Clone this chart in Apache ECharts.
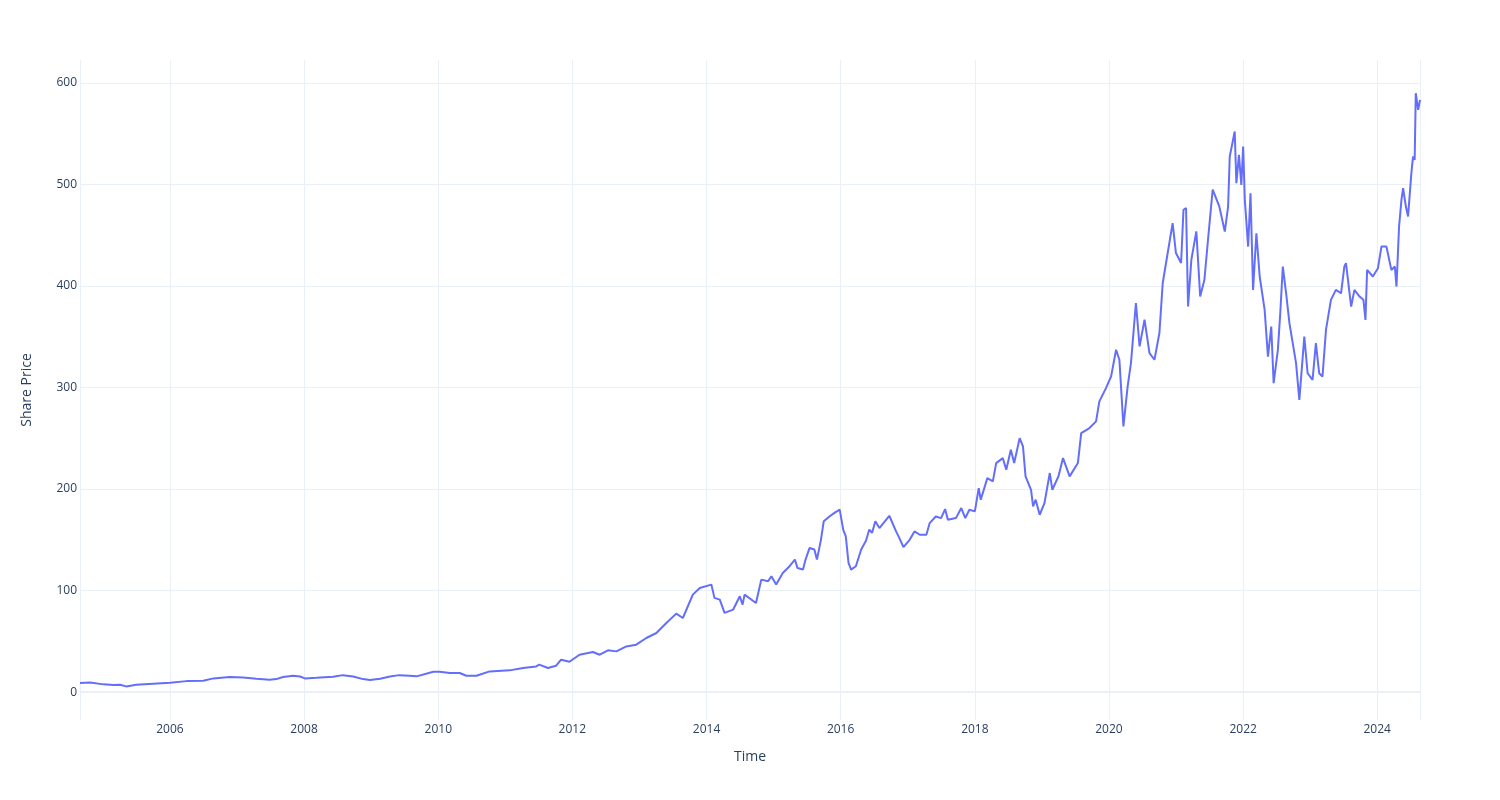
<!DOCTYPE html>
<html>
<head>
<meta charset="utf-8">
<script src="https://cdn.jsdelivr.net/npm/echarts@6/dist/echarts.min.js"></script>
<style>
  html, body { margin: 0; padding: 0; background: #fff; }
  #chart { width: 1500px; height: 800px; }
</style>
</head>
<body>
<div id="chart"></div>
<script>
// dates and prices
const dates = [
  '2004-08-29','2004-10-23','2005-01-04','2005-02-28','2005-04-04','2005-05-08','2005-07-01','2005-10-01',
  '2006-01-01','2006-04-01','2006-07-01','2006-08-25','2006-11-22','2007-02-03','2007-04-17','2007-06-28',
  '2007-08-03','2007-09-09','2007-11-03','2007-12-10','2008-01-05','2008-03-08','2008-06-07','2008-07-31',
  '2008-09-24','2008-11-18','2008-12-25','2009-02-18','2009-04-13','2009-06-03','2009-07-28','2009-09-05',
  '2009-12-05','2010-01-09','2010-03-05','2010-04-28','2010-06-03','2010-07-28','2010-10-08','2011-01-25',
  '2011-04-08','2011-06-18','2011-07-05','2011-08-21','2011-10-05','2011-11-01','2011-12-16','2012-02-09',
  '2012-04-22','2012-05-29','2012-07-13','2012-08-28','2012-10-21','2012-12-14','2013-02-07','2013-04-03',
  '2013-05-27','2013-07-20','2013-08-25','2013-10-18','2013-11-25','2014-01-27','2014-02-13','2014-03-14',
  '2014-04-09','2014-05-26','2014-07-01','2014-07-16','2014-07-27','2014-09-27','2014-10-26','2014-12-02',
  '2014-12-20','2015-01-15','2015-02-20','2015-03-29','2015-04-27','2015-05-11','2015-06-10','2015-06-24',
  '2015-07-16','2015-08-11','2015-08-25','2015-09-16','2015-10-01','2015-11-03','2015-11-28','2015-12-27',
  '2016-01-15','2016-01-29','2016-02-13','2016-02-27','2016-03-24','2016-04-22','2016-05-18','2016-06-05',
  '2016-06-20','2016-07-08','2016-07-30','2016-09-22','2016-10-29','2016-11-16','2016-12-08','2017-01-11',
  '2017-02-06','2017-03-07','2017-04-12','2017-04-30','2017-06-02','2017-07-01','2017-07-23','2017-08-07',
  '2017-09-20','2017-10-19','2017-11-10','2017-12-02','2018-01-01','2018-01-22','2018-02-02','2018-03-10',
  '2018-04-09','2018-04-27','2018-06-02','2018-06-21','2018-07-16','2018-08-03','2018-09-02','2018-09-20',
  '2018-10-04','2018-11-03','2018-11-14','2018-11-28','2018-12-20','2019-01-15','2019-02-13','2019-02-27',
  '2019-04-01','2019-04-26','2019-06-01','2019-07-16','2019-08-03','2019-09-17','2019-10-23','2019-11-10',
  '2019-12-16','2020-01-13','2020-02-09','2020-02-27','2020-03-20','2020-04-12','2020-04-30','2020-05-27',
  '2020-06-16','2020-07-13','2020-08-09','2020-09-05','2020-10-02','2020-10-20','2020-11-07','2020-12-13',
  '2020-12-31','2021-01-28','2021-02-10','2021-02-24','2021-03-07','2021-03-25','2021-04-21','2021-05-12',
  '2021-06-04','2021-06-22','2021-07-19','2021-08-24','2021-09-23','2021-10-11','2021-10-20','2021-11-16',
  '2021-11-25','2021-12-09','2021-12-22','2022-01-01','2022-01-10','2022-01-28','2022-02-10','2022-02-24',
  '2022-03-14','2022-04-01','2022-04-28','2022-05-16','2022-06-03','2022-06-16','2022-07-09','2022-07-22',
  '2022-08-05','2022-08-23','2022-09-10','2022-09-28','2022-10-16','2022-11-03','2022-11-30','2022-12-18',
  '2023-01-14','2023-02-01','2023-02-19','2023-03-09','2023-03-28','2023-04-24','2023-05-21','2023-06-18',
  '2023-07-06','2023-07-15','2023-08-12','2023-08-30','2023-09-27','2023-10-18','2023-10-29','2023-11-07',
  '2023-12-08','2024-01-05','2024-01-24','2024-02-20','2024-03-18','2024-04-06','2024-04-15','2024-04-29',
  '2024-05-12','2024-05-21','2024-06-05','2024-06-17','2024-07-05','2024-07-14','2024-07-23','2024-07-29',
  '2024-08-11','2024-08-21'
];
const prices = [
  8.9, 9.5, 7.6, 6.9, 7.2, 5.6, 7.2, 8.2,
  9.2, 10.8, 11.2, 13.5, 14.8, 14.4, 13.1, 12.2,
  12.8, 14.8, 16.1, 15.4, 13.5, 14.1, 15.1, 16.7,
  15.4, 12.8, 11.8, 13.1, 15.4, 16.7, 16.1, 15.5,
  20.0, 20.0, 18.8, 18.8, 16.1, 16.1, 20.4, 21.4,
  23.7, 25.3, 27.0, 23.7, 26.0, 31.9, 29.9, 36.8,
  39.5, 36.8, 41.1, 40.1, 45.0, 46.7, 53.3, 58.2,
  68.0, 77.3, 73.0, 96.0, 102.6, 105.9, 92.8, 91.1,
  78.0, 81.3, 94.4, 86.2, 96.0, 87.8, 110.8, 109.2,
  114.1, 105.9, 117.4, 124.0, 130.5, 122.3, 120.7, 130.5,
  142.0, 140.4, 130.5, 150.2, 168.3, 173.2, 176.5, 179.8,
  160.1, 153.5, 127.3, 120.7, 124.0, 140.4, 149.0, 160.1,
  156.8, 168.3, 161.6, 173.7, 158.3, 151.7, 142.9, 150.0,
  158.3, 155.0, 155.0, 166.5, 173.0, 171.4, 180.3, 169.8,
  171.4, 181.3, 171.4, 179.6, 178.0, 201.0, 189.5, 210.8,
  207.6, 225.6, 230.5, 219.0, 238.8, 225.6, 250.2, 242.0,
  212.5, 199.3, 182.9, 189.5, 174.7, 186.2, 215.8, 199.3,
  212.5, 230.5, 212.5, 225.6, 255.2, 260.1, 266.7, 286.4,
  299.5, 311.0, 337.3, 327.4, 261.7, 301.1, 324.1, 383.3,
  340.6, 366.8, 334.0, 327.4, 353.7, 403.0, 422.7, 462.0,
  432.5, 422.7, 475.2, 476.8, 380.0, 426.0, 453.9, 389.8,
  406.2, 442.4, 495.0, 478.5, 453.7, 478.3, 527.6, 552.2,
  501.3, 529.2, 499.7, 537.4, 484.9, 438.9, 491.5, 396.2,
  452.0, 409.4, 376.5, 330.5, 360.1, 304.3, 337.1, 373.2,
  419.2, 392.9, 363.4, 343.7, 324.0, 287.8, 350.2, 314.1,
  307.6, 343.7, 314.1, 310.8, 356.8, 386.4, 396.2, 392.9,
  419.2, 422.5, 379.8, 396.2, 389.7, 386.4, 366.7, 415.9,
  409.4, 417.6, 438.9, 438.9, 415.9, 419.2, 399.5, 458.6,
  484.9, 496.4, 478.3, 468.5, 511.2, 527.6, 524.3, 590.0,
  573.6, 583.4
];
const priceTicks = [0, 100, 200, 300, 400, 500, 600];

const font = '"Open Sans", verdana, arial, sans-serif';

const chart = echarts.init(document.getElementById('chart'));
chart.setOption({
  animation: false,
  backgroundColor: '#fff',
  textStyle: { fontFamily: font },
  grid: { left: 80, right: 80, top: 60, bottom: 80 },
  xAxis: {
    type: 'time',
    min: dates[0],
    max: dates[dates.length - 1],
    splitNumber: 10,
    name: 'Time',
    nameLocation: 'middle',
    nameGap: 30,
    nameTextStyle: { color: '#2a3f5f', fontSize: 14, fontFamily: font },
    axisLine: { show: false },
    axisTick: { show: false },
    axisLabel: {
      color: '#2a3f5f',
      fontSize: 12,
      margin: 4,
      fontFamily: font,
      fontWeight: 'normal',
      hideOverlap: true,
      formatter: v => String(new Date(v).getFullYear())
    },
    splitLine: { show: true, lineStyle: { color: '#EBF0F8', width: 1 } }
  },
  yAxis: {
    type: 'value',
    min: -27.5,
    max: 622.7,
    name: 'Share Price',
    nameLocation: 'middle',
    nameGap: 46,
    nameTextStyle: { color: '#2a3f5f', fontSize: 14, fontFamily: font },
    axisLine: { show: false },
    axisTick: { show: false, customValues: priceTicks },
    axisLabel: {
      customValues: priceTicks,
      color: '#2a3f5f',
      fontSize: 12,
      margin: 3,
      fontFamily: font
    },
    splitLine: { show: true, lineStyle: { color: '#EBF0F8', width: 1 } }
  },
  series: [{
    type: 'line',
    data: dates.map((d, i) => [d, prices[i]]),
    showSymbol: false,
    symbol: 'none',
    lineStyle: { color: '#636efa', width: 2 },
    itemStyle: { color: '#636efa' },
    markLine: {
      silent: true,
      symbol: 'none',
      label: { show: false },
      lineStyle: { color: '#EBF0F8', width: 2, type: 'solid' },
      data: [{ yAxis: 0 }]
    },
    z: 3
  }]
});
</script>
</body>
</html>
